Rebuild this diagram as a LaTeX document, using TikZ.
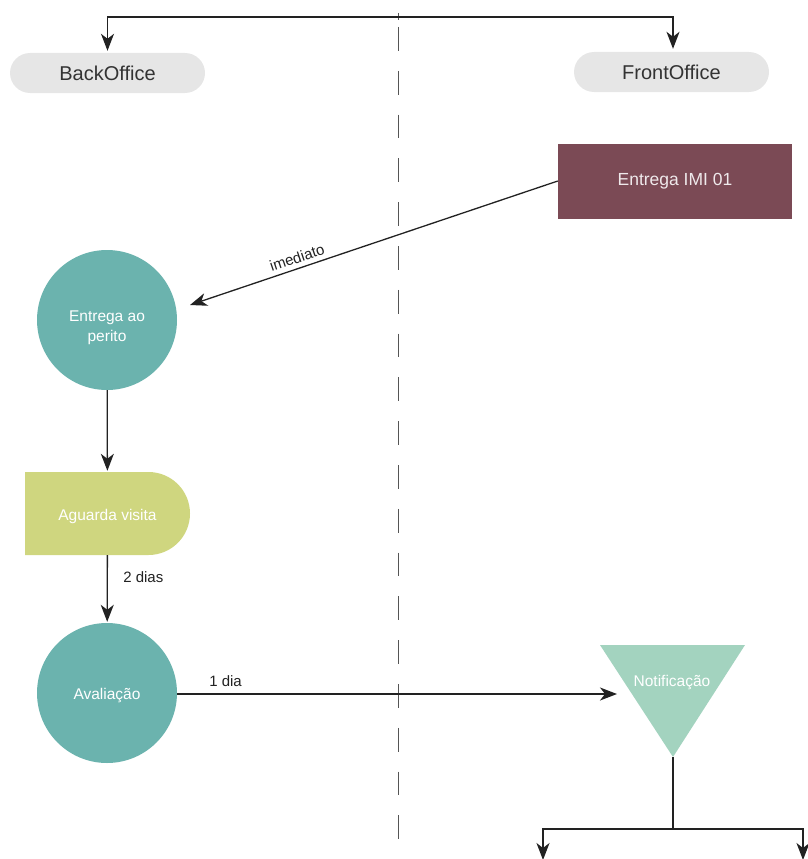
\documentclass[tikz,border=0pt]{standalone}
\usepackage{fontspec}
\setmainfont{Liberation Sans}
\usetikzlibrary{arrows.meta,shapes.misc}
\definecolor{linec}{HTML}{222222}
\definecolor{pillc}{HTML}{E6E6E6}
\definecolor{wine}{HTML}{7B4A55}
\definecolor{teal}{HTML}{6BB3AE}
\definecolor{olive}{HTML}{CFD67F}
\definecolor{mint}{HTML}{A3D3BF}
\definecolor{dashc}{HTML}{555555}
\begin{document}
\begin{tikzpicture}[x=1pt,y=-1pt,
  conn/.style={draw=linec,line width=1.3pt},
  arr/.style={conn,-{Stealth[length=17pt,width=13pt,inset=5pt]}},
  pill/.style={rounded rectangle,fill=pillc,minimum width=195pt,minimum height=40pt,
    inner sep=0pt,font=\fontsize{20}{22}\selectfont,text=black!80},
  inlbl/.style={text=white,font=\fontsize{15.5}{20}\selectfont,align=center},
  bubble/.style={circle,fill=teal,minimum size=140pt,inner sep=0pt},
  edgelbl/.style={font=\fontsize{15}{18}\selectfont,text=linec}]
\useasboundingbox (0,0) rectangle (808,859);

% lane separator
\draw[dashc,line width=1pt] (398,13) -- (398,20);
\draw[dashc,line width=1pt,dash pattern=on 23.8pt off 20pt] (398,27) -- (398,859);

% lane headers
\node[pill] (back) at (107.5,73) {BackOffice};
\node[pill] (front) at (671.5,72) {FrontOffice};
\coordinate (top) at (398,17);
\draw[arr,shorten >=2pt] (top) -| (back);
\draw[arr,shorten >=3pt] (top) -| ([xshift=1.5pt]front.north);

% process nodes
\node[fill=wine,minimum width=234pt,minimum height=75pt,inner sep=0pt,
  text=white!88!wine,font=\fontsize{17.5}{20}\selectfont] (ent) at (675,181) {Entrega IMI 01};
\node[bubble,label={[inlbl,yshift=-8pt]center:{Entrega ao\\perito}}] (perito) at (107,320) {};
\node[rounded rectangle,rounded rectangle left arc=none,fill=olive,
  minimum width=165pt,minimum height=83pt,inner sep=0pt,
  label={[inlbl,yshift=-3pt]center:Aguarda visita}] (aguarda) at (107.5,513.5) {};
\node[bubble,label={[inlbl,yshift=-3pt]center:Avaliação}] (aval) at (107,693) {};

% notification (downward triangle)
\coordinate (ntl) at (600,645);
\coordinate (ntr) at (745,645);
\coordinate (apex) at (673,757);
\fill[mint] (ntl) -- (ntr) -- (apex) -- cycle;
\node[inlbl] (notif) at (672,683) {Notificação};

% connectors
\coordinate (peritoIn) at (190,305);
\draw[arr] (ent.west) -- node[pos=0.7,sloped,above=1pt,edgelbl] {imediato} (peritoIn);
\draw[arr,shorten >=1pt] (perito) -- (aguarda);
\draw[arr,shorten >=1pt] (aguarda) -- node[right=12pt,pos=0.33,edgelbl] {2 dias} (aval);
\coordinate (notifIn) at (617,694);
\draw[arr] (aval.east |- notifIn) -- node[above=3pt,pos=0.11,edgelbl] {1 dia} (notifIn);

% outgoing fork
\coordinate (fork) at (673,829);
\coordinate (outL) at (543,860);
\coordinate (outR) at (803,860);
\draw[conn] (apex) -- (fork);
\draw[arr] (fork) -| (outL);
\draw[arr] (fork) -| (outR);
\end{tikzpicture}
\end{document}
